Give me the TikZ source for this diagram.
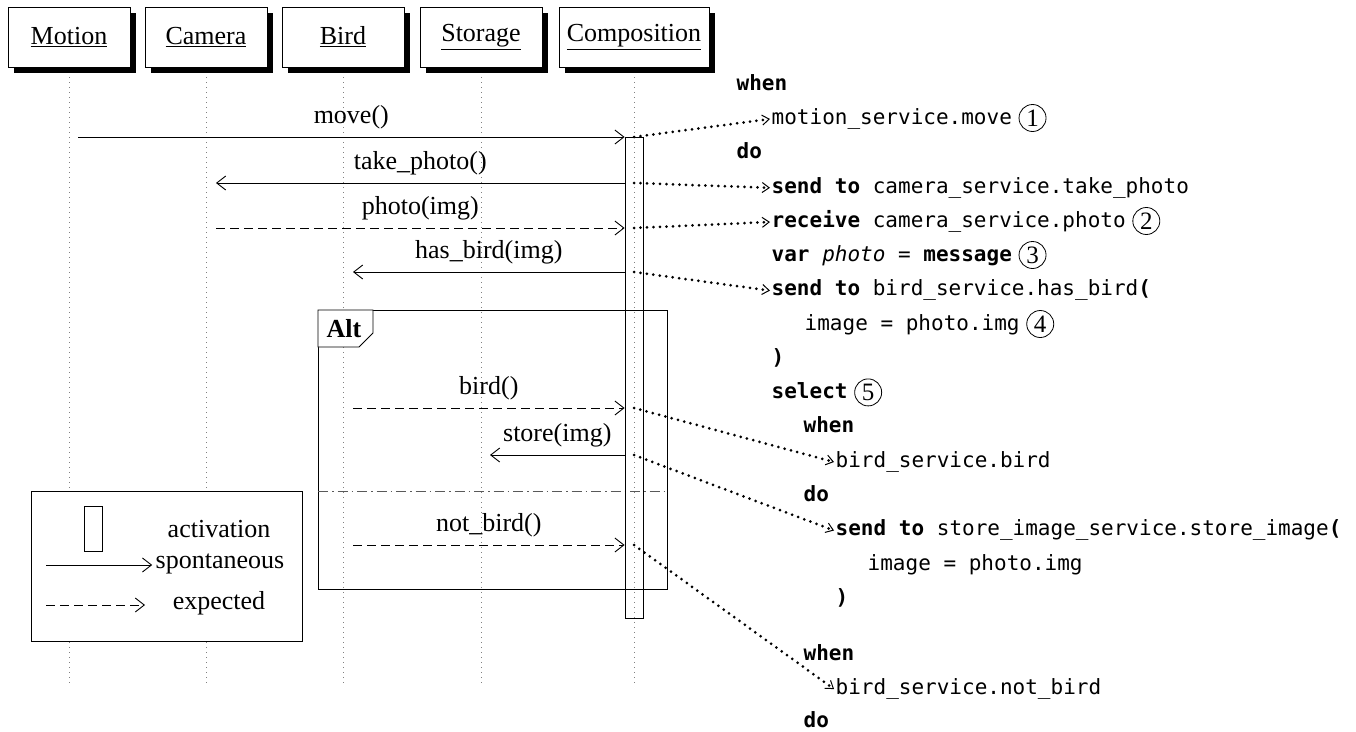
\documentclass[tikz,border=0pt]{standalone}
\usepackage{fontspec}
\setmainfont{Liberation Serif}
\setmonofont{DejaVu Sans Mono}
\usetikzlibrary{arrows.meta,shadows,backgrounds}
\begin{document}
\begin{tikzpicture}[x=1pt,y=-1pt,
  every node/.style={font=\fontsize{26}{30}\selectfont},
  participant/.style={draw, fill=white, line width=0.8pt, minimum width=122pt, minimum height=60pt, inner sep=0pt,
    drop shadow={shadow xshift=6pt, shadow yshift=-6pt, fill=black, opacity=1}},
  lifeline/.style={gray, line width=1pt, dash pattern=on 1pt off 4pt},
  msg/.style={line width=0.9pt, -{Straight Barb[length=9pt,width=14pt,line width=0.9pt]}},
  reply/.style={msg, dash pattern=on 9pt off 5pt},
  lbl/.style={midway, yshift=20pt, inner sep=0pt},
  link/.style={line width=3pt, line cap=round, dash pattern=on 0pt off 6.5pt,
    -{Straight Barb[length=7pt,width=10pt,line width=1pt]}},
  code/.style={anchor=west, inner sep=1.5pt, text height=15pt, text depth=4.5pt,
    font=\fontsize{21}{25}\selectfont\ttfamily},
  circnum/.style={circle, draw, line width=0.8pt, minimum size=27pt, inner sep=0pt, anchor=west,
    font=\fontsize{25}{25}\selectfont},
  box/.style={draw, line width=0.8pt, inner sep=0pt}
]
\useasboundingbox (0,0) rectangle (1356,731);

% participants
\node[participant] (motion) at (69,37) {\underline{Motion}};
\node[participant] (camera) at (206,37) {\underline{Camera}};
\node[participant] (bird) at (343,37) {\underline{Bird}};
\node[participant] (storage) at (481,37) {\underline{Storage}};
\node[participant, minimum width=150pt] (comp) at (634,37) {\underline{Composition}};

\coordinate (motionE) at (69,683);
\coordinate (cameraE) at (206,683);
\coordinate (birdE) at (343,683);
\coordinate (storageE) at (481,683);
\coordinate (compE) at (634,683);

\begin{scope}[on background layer]
  \draw[lifeline] (motion.south) -- (motionE);
  \draw[lifeline] (camera.south) -- (cameraE);
  \draw[lifeline] (bird.south) -- (birdE);
  \draw[lifeline] (storage.south) -- (storageE);
  \draw[lifeline] (comp.south) -- (compE);
\end{scope}

% alt frame
\node[box, minimum width=349pt, minimum height=279pt, anchor=north west] (alt) at (318,310) {};
\draw[line width=0.8pt, fill=white] (alt.north west) -- (373,310) -- (373,333) -- (359,347) -- (318,347) -- cycle;
\node[font=\fontsize{26}{30}\selectfont\bfseries] (altlbl) at (344,329) {Alt};
\coordinate (sepL) at (318,491);
\coordinate (sepR) at (667,491);
\draw[line width=0.8pt, gray!70!black, dash pattern=on 10pt off 4pt on 1.5pt off 4pt] (sepL) -- (sepR);

% legend
\node[box, fill=white, minimum width=271pt, minimum height=150pt] (legend) at (166.5,566) {};
\node[box, minimum width=18pt, minimum height=45pt] (legact) at (93,528.5) {};
\node (legtxt1) at (219,529) {activation};
\node (legtxt2) at (220,564) {spontaneous};
\node (legtxt3) at (219,603) {expected};
\coordinate (legs) at (46,565);
\coordinate (legd) at (46,605);
\coordinate (legdE) at (145,605);
\draw[msg] (legs) -- (legs -| legtxt2.west);
\draw[reply] (legd) -- (legdE);

% activation
\node[box, minimum width=18pt, minimum height=481pt] (act) at (634,377.5) {};

% messages
\coordinate (mv) at (78,137);
\coordinate (tp) at (216,183);
\coordinate (ph) at (216,228);
\coordinate (hb) at (353,272);
\coordinate (bd) at (353,408);
\coordinate (st) at (490,455);
\coordinate (nb) at (353,545);

\draw[msg] (mv) -- (act.west |- mv) node[lbl] {move()};
\draw[msg] (act.west |- tp) -- (tp) node[lbl] {take\_photo()};
\draw[reply] (ph) -- (act.west |- ph) node[lbl] {photo(img)};
\draw[msg] (act.west |- hb) -- (hb) node[lbl] {has\_bird(img)};
\draw[reply] (bd) -- (act.west |- bd) node[lbl] {bird()};
\draw[msg] (act.west |- st) -- (st) node[lbl] {store(img)};
\draw[reply] (nb) -- (act.west |- nb) node[lbl] {not\_bird()};

% code
\node[code] (c1) at (735,85) {\textbf{when}};
\node[code] (c2) at (770,119) {motion\_service.move};
\node[code] (c3) at (735,153.5) {\textbf{do}};
\node[code] (c4) at (770,187.8) {\textbf{send to} camera\_service.take\_photo};
\node[code] (c5) at (770,222) {\textbf{receive} camera\_service.photo};
\node[code] (c6) at (770,256) {\textbf{var} \textit{photo} = \textbf{message}};
\node[code] (c7) at (770,290.6) {\textbf{send to} bird\_service.has\_bird\textbf{(}};
\node[code] (c8) at (803,325) {image = photo.img};
\node[code] (c9) at (770,359) {\textbf{)}};
\node[code] (c10) at (770,393.4) {\textbf{select}};
\node[code] (c11) at (802,427.7) {\textbf{when}};
\node[code] (c12) at (834,462) {bird\_service.bird};
\node[code] (c13) at (802,496) {\textbf{do}};
\node[code] (c14) at (834,530.5) {\textbf{send to} store\_image\_service.store\_image\textbf{(}};
\node[code] (c15) at (866,565) {image = photo.img};
\node[code] (c16) at (834,599) {\textbf{)}};
\node[code] (c17) at (802,655) {\textbf{when}};
\node[code] (c18) at (834,689) {bird\_service.not\_bird};
\node[code] (c19) at (802,722) {\textbf{do}};

\node[circnum] (n1) at ([xshift=5pt,yshift=1pt]c2.east) {1};
\node[circnum] (n2) at ([xshift=5pt,yshift=1pt]c5.east) {2};
\node[circnum] (n3) at ([xshift=5pt,yshift=1pt]c6.east) {3};
\node[circnum] (n4) at ([xshift=5pt,yshift=1pt]c8.east) {4};
\node[circnum] (n5) at ([xshift=5pt,yshift=1pt]c10.east) {5};

% links
\coordinate (k1) at (634,137);
\coordinate (k2) at (634,183);
\coordinate (k3) at (634,228);
\coordinate (k4) at (634,272);
\coordinate (k5) at (634,408);
\coordinate (k6) at (634,455);
\coordinate (k7) at (634,545);
\draw[link] (k1) -- (c2.west);
\draw[link] (k2) -- (c4.west);
\draw[link] (k3) -- (c5.west);
\draw[link] (k4) -- (c7.west);
\draw[link] (k5) -- (c12.west);
\draw[link] (k6) -- (c14.west);
\draw[link] (k7) -- (c18.west);
\end{tikzpicture}
\end{document}
